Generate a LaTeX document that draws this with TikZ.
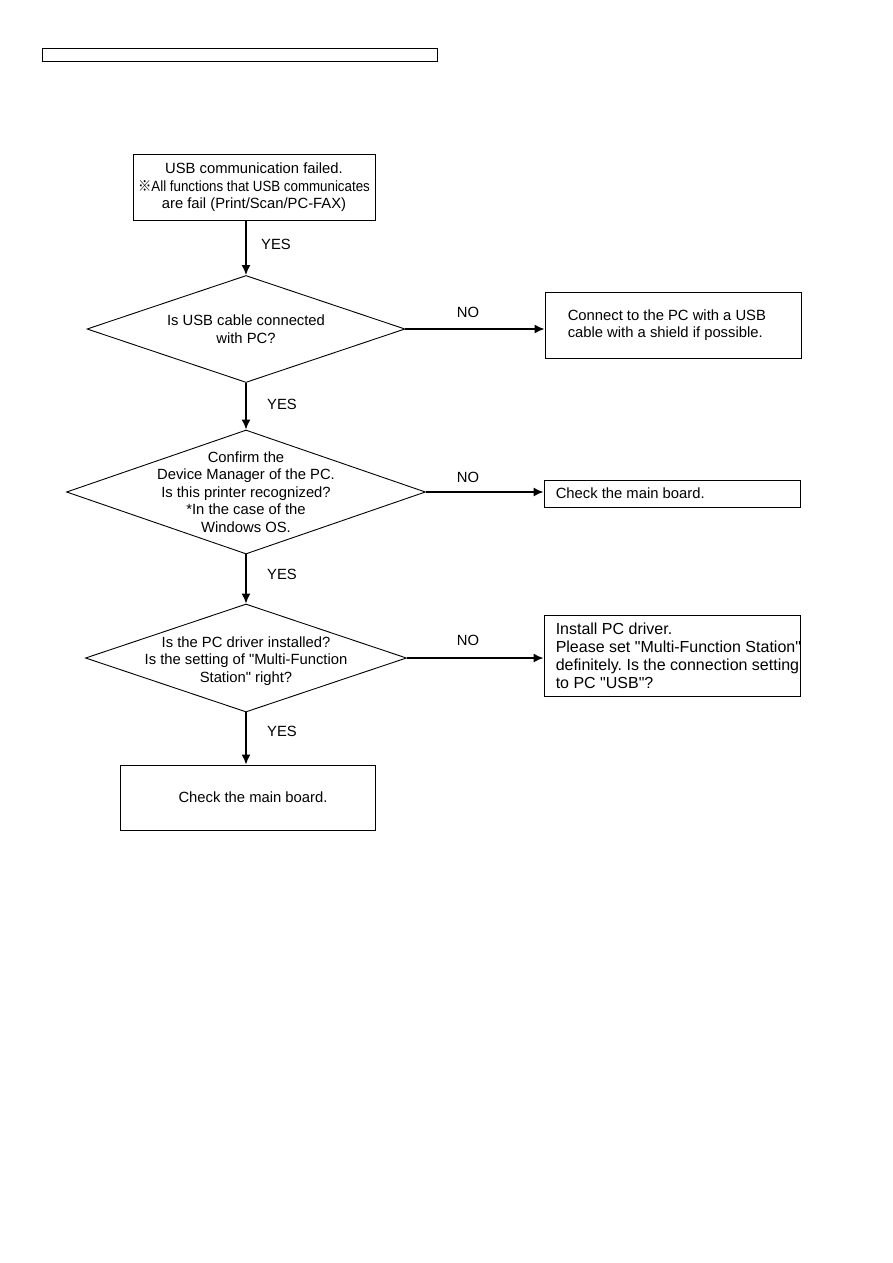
\documentclass[tikz,border=0pt]{standalone}
\usepackage{fontspec}
\setmainfont{Liberation Sans}
\newfontfamily\cjkfont{Noto Sans CJK JP}
\usetikzlibrary{shapes.geometric,arrows.meta,positioning}
\frenchspacing
\newcommand{\fcFont}{\fontsize{14.8}{17.6}\selectfont}
\newcommand{\fcBigFont}{\fontsize{16}{18}\selectfont}
\newcommand{\qt}{\textquotedbl}
\tikzset{
    fcBox/.style={
        rectangle,
        draw,
        line width=0.9pt,
        inner sep=0pt,
        font=\fcFont,
        align=center
    },
    fcDecision/.style={
        diamond,
        draw,
        line width=0.9pt,
        inner sep=0pt
    },
    fcText/.style={font=\fcFont, align=center, inner sep=0pt},
    % Arrows and labels
    fcArrow/.style={-{Latex[length=10pt,width=9pt]}, line width=1.6pt},
    fcLabel/.style={font=\fcFont, inner sep=0pt}
}

\begin{document}
\begin{tikzpicture}[x=1pt, y=-1pt]
    \useasboundingbox (0,0) rectangle (893,1263);
    \node[fcBox, line width=1.2pt, minimum width=395, minimum height=13, anchor=north west] (header) at (42,48) {};

    % main column
    \node[fcBox, minimum width=242, minimum height=66] (usbFail) at (254,187.5)
        {USB communication failed.\\\scalebox{0.9}[1]{{\cjkfont ※}All functions that USB communicates}\\are fail (Print/Scan/PC-FAX)};
    \node[fcDecision, minimum width=318, minimum height=107] (usbCable) at (246,329) {};
    \node[fcText] (usbCableTxt) at (usbCable) {Is USB cable connected\\with PC?};
    \node[fcDecision, minimum width=359, minimum height=124] (devMgr) at (246,492) {};
    \node[fcText] (devMgrTxt) at (devMgr) {Confirm the\\Device Manager of the PC.\\Is this printer recognized?\\*In the case of the\\Windows OS.};
    \node[fcDecision, minimum width=321, minimum height=108] (drvCheck) at (246,658) {};
    \node[fcText] (drvCheckTxt) at ([yshift=-3]drvCheck.center) {Is the PC driver installed?\\Is the setting of \qt Multi-Function\\Station\qt{} right?};
    \node[fcBox, minimum width=255, minimum height=65] (boardEnd) at (247.5,797.5) {\hspace*{11pt}Check the main board.};

    % right column
    \node[fcBox, minimum width=256, minimum height=66] (connectPC) at (673,325) {};
    \node[fcText, align=left, anchor=west] (connectPCTxt) at ([xshift=23]connectPC.west) {Connect to the PC with a USB\\cable with a shield if possible.};
    \node[fcBox, minimum width=256, minimum height=27] (checkBoard) at (672,493.5) {};
    \node[fcText, anchor=west] (checkBoardTxt) at ([xshift=12]checkBoard.west) {Check the main board.};
    \node[fcBox, minimum width=256, minimum height=81] (installDrv) at (672,655.5) {};
    \node[fcText, font=\fcBigFont, align=left, anchor=west] (installDrvTxt) at ([xshift=12]installDrv.west)
        {Install PC driver.\\Please set \qt Multi-Function Station\qt\\definitely. Is the connection setting\\to PC \qt USB\qt?};

    \draw[fcArrow] (usbFail.south -| usbCable.north) -- (usbCable.north);
    \draw[fcArrow] (usbCable.south) -- (devMgr.north);
    \draw[fcArrow] (devMgr.south) -- (drvCheck.north);
    \draw[fcArrow] (drvCheck.south) -- (drvCheck.south |- boardEnd.north);
    \draw[fcArrow] (usbCable.east) -- (usbCable.east -| connectPC.west);
    \draw[fcArrow] (devMgr.east) -- (devMgr.east -| checkBoard.west);
    \draw[fcArrow] (drvCheck.east) -- (drvCheck.east -| installDrv.west);

    \foreach \name/\x/\y/\txt in {yesA/276/244/YES, yesB/282/404/YES, yesC/282/574/YES, yesD/282/731/YES,
        noA/468/312/NO, noB/468/477/NO, noC/468/640/NO}
        \node[fcLabel] (\name) at (\x,\y) {\txt};
\end{tikzpicture}
\end{document}
